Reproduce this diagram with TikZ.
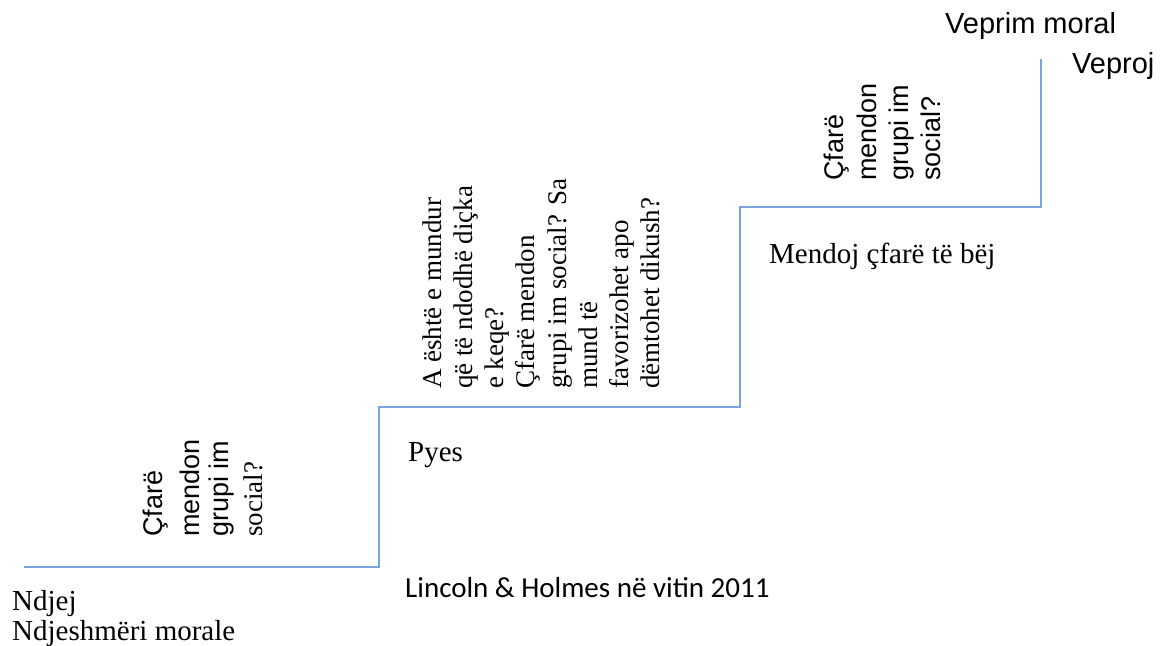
\documentclass[tikz,border=0pt]{standalone}
\usepackage{fontspec}
\setmainfont{Liberation Serif}
\newfontfamily\arialf{Liberation Sans}
\newfontfamily\calibrif{Carlito}
\definecolor{stairblue}{RGB}{120,165,220}
\tikzset{
  stair/.style={draw=stairblue, line width=1.4pt},
  lbl/.style={inner sep=0pt, anchor=base west, text=black},
  serifl/.style={lbl, font=\fontsize{29}{31}\selectfont},
  sansl/.style={lbl, font=\arialf\fontsize{29}{31}\selectfont},
  rsans/.style={lbl, rotate=90, font=\arialf\fontsize{27}{30}\selectfont},
  rserif/.style={lbl, rotate=90, font=\fontsize{27}{30}\selectfont},
  srcl/.style={lbl, font=\calibrif\fontsize{29}{32}\selectfont}
}
\begin{document}
\begin{tikzpicture}[x=1pt,y=-1pt]
\useasboundingbox (0,0) rectangle (1164,645);
% staircase
\coordinate (s0) at (24,567);
\coordinate (s1) at (379,567);
\coordinate (s2) at (379,407);
\coordinate (s3) at (740,407);
\coordinate (s4) at (740,207);
\coordinate (s5) at (1041,207);
\coordinate (s6) at (1041,59);
\draw[stair] (s0) -- (s1) -- (s2) -- (s3) -- (s4) -- (s5) -- (s6);
% horizontal labels
\node[sansl] (vm) at (945,33) {Veprim moral};
\node[sansl] (vp) at (1072,73) {Veproj};
\node[serifl] (nd1) at (12,610) {Ndjej};
\node[serifl] (nd2) at (12,640) {Ndjeshmëri morale};
\node[serifl] (py) at (408,461) {Pyes};
\node[serifl] (mc) at (769,263) {Mendoj çfarë të bëj};
\node[srcl] (src) at (405,597) {Lincoln \& Holmes në vitin 2011};
% rotated block 1
\node[rsans] (a1) at (162,537) {Çfarë};
\node[rsans] (a2) at (199,537) {mendon};
\node[rsans] (a3) at (228,537) {grupi im};
\node[rserif] (a4) at (262,537) {social?};
% rotated block 2
\node[rserif] (b1) at (441,389) {A është e mundur};
\node[rserif] (b2) at (472,389) {që të ndodhë diçka};
\node[rserif] (b3) at (503,389) {e keqe?};
\node[rserif] (b4) at (534,389) {Çfarë mendon};
\node[rserif] (b5) at (566,389) {grupi im social? Sa};
\node[rserif] (b6) at (597,389) {mund të};
\node[rserif] (b7) at (628,389) {favorizohet apo};
\node[rserif] (b8) at (659,389) {dëmtohet dikush?};
% rotated block 3
\node[rsans] (c1) at (843,181) {Çfarë};
\node[rsans] (c2) at (876,181) {mendon};
\node[rsans] (c3) at (908,181) {grupi im};
\node[rsans] (c4) at (940,181) {social?};
\end{tikzpicture}
\end{document}
